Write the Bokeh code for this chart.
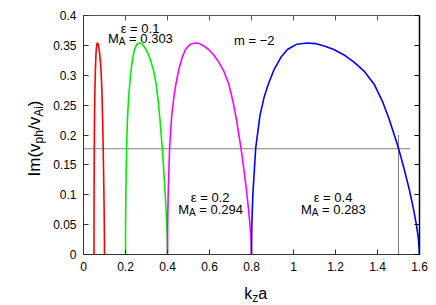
from math import pi
from bokeh.plotting import figure
from bokeh.models import Range1d, LinearAxis, FixedTicker, Label, NumeralTickFormatter
from bokeh.layouts import row, column
from bokeh.embed import file_html
from bokeh.resources import INLINE

# ---------------- data ----------------
kza_red = [0.05, 0.0501, 0.0504, 0.05125, 0.0525, 0.05375, 0.055, 0.05675, 0.05875, 0.0607,
           0.0635, 0.0665, 0.069, 0.07165, 0.0745, 0.07755, 0.0805, 0.0835, 0.0865, 0.089,
           0.091, 0.0925, 0.09375, 0.09525, 0.097, 0.09825, 0.099, 0.09965, 0.1]
im_red = [0.0, 0.050, 0.100, 0.178, 0.232, 0.263, 0.285, 0.310, 0.330, 0.343,
          0.352, 0.354, 0.353, 0.349, 0.343, 0.334, 0.322, 0.307, 0.285, 0.256,
          0.226, 0.200, 0.178, 0.147, 0.108, 0.075, 0.052, 0.028, 0.0]

kza_green = [0.2, 0.2004, 0.2016, 0.205, 0.21, 0.215, 0.22, 0.227, 0.235, 0.2428,
             0.254, 0.266, 0.276, 0.2866, 0.298, 0.3102, 0.322, 0.334, 0.346, 0.356,
             0.364, 0.37, 0.375, 0.381, 0.388, 0.393, 0.396, 0.3986, 0.4]
im_green = [0.0, 0.050, 0.100, 0.178, 0.232, 0.263, 0.285, 0.310, 0.330, 0.343,
            0.352, 0.354, 0.353, 0.349, 0.343, 0.334, 0.322, 0.307, 0.285, 0.256,
            0.226, 0.200, 0.178, 0.147, 0.108, 0.075, 0.052, 0.028, 0.0]

kza_magenta = [0.4, 0.4008, 0.4032, 0.41, 0.42, 0.43, 0.44, 0.454, 0.47, 0.4856,
               0.508, 0.532, 0.552, 0.5732, 0.596, 0.6204, 0.644, 0.668, 0.692, 0.712,
               0.728, 0.74, 0.75, 0.762, 0.776, 0.786, 0.792, 0.7972, 0.8]
im_magenta = [0.0, 0.050, 0.100, 0.178, 0.232, 0.263, 0.285, 0.310, 0.330, 0.343,
              0.352, 0.354, 0.353, 0.349, 0.343, 0.334, 0.322, 0.307, 0.285, 0.256,
              0.226, 0.200, 0.178, 0.147, 0.108, 0.075, 0.052, 0.028, 0.0]

kza_blue = [0.8, 0.8016, 0.8064, 0.82, 0.84, 0.86, 0.88, 0.908, 0.94, 0.9712,
            1.016, 1.064, 1.104, 1.1464, 1.192, 1.2408, 1.288, 1.336, 1.384, 1.424,
            1.456, 1.48, 1.5, 1.524, 1.552, 1.572, 1.584, 1.5944, 1.6]
im_blue = [0.0, 0.050, 0.100, 0.178, 0.232, 0.263, 0.285, 0.310, 0.330, 0.343,
           0.352, 0.354, 0.353, 0.349, 0.343, 0.334, 0.322, 0.307, 0.285, 0.256,
           0.226, 0.200, 0.178, 0.147, 0.108, 0.075, 0.052, 0.028, 0.0]

hline_x = [0.0, 1.556]
hline_y = [0.177, 0.177]
vline_x = [1.5, 1.5]
vline_y = [0.0, 0.2]

x_ticks = [0, 0.2, 0.4, 0.6, 0.8, 1.0, 1.2, 1.4, 1.6]
x_tick_labels = ["0", "0.2", "0.4", "0.6", "0.8", "1", "1.2", "1.4", "1.6"]
y_ticks = [0, 0.05, 0.1, 0.15, 0.2, 0.25, 0.3, 0.35, 0.4]
y_tick_labels = ["0", "0.05", "0.1", "0.15", "0.2", "0.25", "0.3", "0.35", "0.4"]

FONT = "Liberation Sans"
YLAB_W = 50          # width of the strip that holds the vertical axis title
XLAB_H = 29          # height of the strip that holds the horizontal axis title

# ---------------- main figure ----------------
p = figure(frame_width=336, frame_height=239,
           min_border_left=81 - YLAB_W, min_border_right=19, min_border_top=15,
           min_border_bottom=51 - XLAB_H,
           x_range=Range1d(0, 1.6), y_range=Range1d(0, 0.4),
           output_backend="svg", toolbar_location=None, tools="")
p.outline_line_color = None
p.xgrid.visible = False
p.ygrid.visible = False
p.background_fill_color = "white"
p.border_fill_color = "white"


def style_axis(ax, ticks, labels, fmt, show_labels=True, color="#333333", width=1):
    ax.ticker = FixedTicker(ticks=ticks)
    ax.formatter = NumeralTickFormatter(format=fmt)
    ax.major_label_overrides = {t: l for t, l in zip(ticks, labels)}
    ax.major_tick_in = 5
    ax.major_tick_out = 0
    ax.minor_tick_in = 0
    ax.minor_tick_out = 0
    ax.axis_line_color = color
    ax.axis_line_width = width
    ax.major_tick_line_color = color
    ax.major_tick_line_width = 1
    if show_labels:
        ax.major_label_text_font = FONT
        ax.major_label_text_font_size = "12px"
        ax.major_label_text_color = "black"
        ax.major_label_standoff = 7
    else:
        ax.major_label_text_font_size = "1px"
        ax.major_label_text_color = None
        ax.major_label_standoff = 0


style_axis(p.xaxis[0], x_ticks, x_tick_labels, "0.[0]")
style_axis(p.yaxis[0], y_ticks, y_tick_labels, "0.[00]")
top = LinearAxis()
style_axis(top, x_ticks, x_tick_labels, "0.[0]", show_labels=False, color="#555555")
right = LinearAxis()
style_axis(right, y_ticks, y_tick_labels, "0.[00]", show_labels=False, color="black", width=1.5)
p.add_layout(top, "above")
p.add_layout(right, "right")

# ---------------- curves ----------------
p.line(hline_x, hline_y, line_color="#808080", line_width=1)
p.line(vline_x, vline_y, line_color="#808080", line_width=1)
p.line(kza_red, im_red, line_color="#ff0000", line_width=1.6)
p.line(kza_green, im_green, line_color="#00ee00", line_width=1.6)
p.line(kza_magenta, im_magenta, line_color="#ff00ff", line_width=1.6)
p.line(kza_blue, im_blue, line_color="#0000ff", line_width=1.6)

# ---------------- rich text helpers ----------------
W = {' ': 278, '=': 584, '.': 278, 'M': 833, 'A': 667, 'm': 833, '\u2212': 584, '\u03b5': 500,
     'k': 500, 'z': 500, 'a': 556, 'I': 278, '(': 333, ')': 333, 'v': 500, 'p': 556,
     'h': 556, '/': 278, 'i': 222}


def tw(s, size):
    return sum(W.get(c, 556) for c in s) / 1000.0 * size


def group(fig, x, y, parts, rotated=False):
    total = sum(tw(t, s) for t, s, _ in parts)
    cur = -total / 2.0
    for t, s, shift in parts:
        stripped = t.lstrip(" ")
        cur += tw(t[:len(t) - len(stripped)], s)
        if rotated:
            lab = Label(x=x, y=y, text=stripped, x_offset=-shift, y_offset=cur, angle=pi / 2,
                        text_align="left", text_baseline="alphabetic")
        else:
            lab = Label(x=x, y=y, text=stripped, x_offset=cur, y_offset=shift,
                        text_align="left", text_baseline="alphabetic")
        lab.text_font = FONT
        lab.text_font_size = f"{s}px"
        lab.text_color = "black"
        fig.add_layout(lab)
        cur += tw(stripped, s)


# annotations inside the plot
group(p, 0.271, 0.378, [("\u03b5 = 0.1", 13, 0)])
group(p, 0.271, 0.361, [("M", 13, 0), ("A", 10, -3), (" = 0.303", 13, 0)])
group(p, 0.813, 0.358, [("m = \u22122", 13, 0)])
group(p, 0.605, 0.096, [("\u03b5 = 0.2", 13, 0)])
group(p, 0.605, 0.075, [("M", 13, 0), ("A", 10, -3), (" = 0.294", 13, 0)])
group(p, 1.19, 0.096, [("\u03b5 = 0.4", 13, 0)])
group(p, 1.19, 0.075, [("M", 13, 0), ("A", 10, -3), (" = 0.283", 13, 0)])


# ---------------- axis-title strips (text only) ----------------
def strip(w, h):
    f = figure(width=w, height=h, x_range=Range1d(0, w), y_range=Range1d(0, h),
               min_border=0, x_axis_location=None, y_axis_location=None,
               output_backend="svg", toolbar_location=None, tools="")
    f.outline_line_color = None
    f.xgrid.visible = False
    f.ygrid.visible = False
    f.background_fill_color = "white"
    f.border_fill_color = "white"
    return f


ylab = strip(YLAB_W, 305)
group(ylab, 34, 305 - 138, [("Im(v", 17, 0), ("ph", 12, -4), ("/v", 17, 0), ("Ai", 12, -4),
                            (")", 17, 0)], rotated=True)

xlab = strip(436 - YLAB_W, XLAB_H)
group(xlab, 249 - YLAB_W, XLAB_H - (293 - 276), [("k", 16, 0), ("z", 12, -4), ("a", 16, 0)])

layout = row(ylab, column(p, xlab, spacing=0), spacing=0)

open("out.html", "w").write(file_html(layout, INLINE))
